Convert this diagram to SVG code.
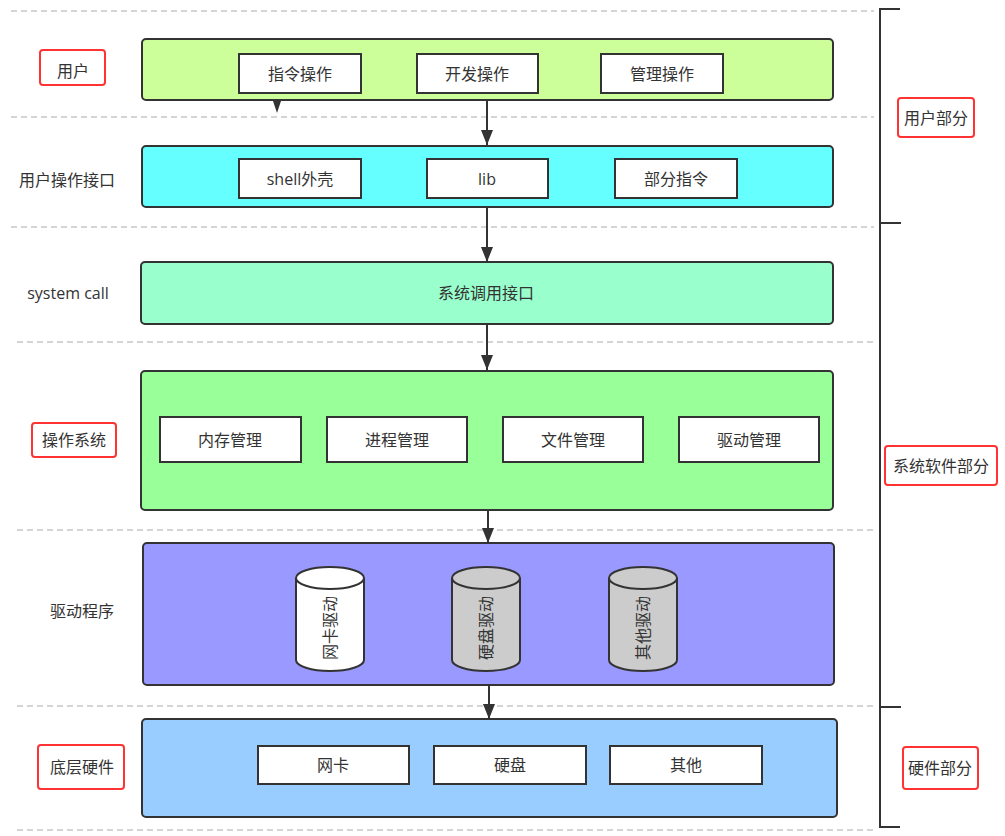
<svg xmlns="http://www.w3.org/2000/svg" width="1005" height="836" viewBox="0 0 1005 836">
<defs>
<style>
text{font-family:"Open Sans","Noto Sans CJK SC",sans-serif;font-size:16px;fill:#333;text-anchor:middle;dominant-baseline:central}
.div{stroke:#aaa;stroke-width:1;stroke-dasharray:6 4;fill:none}
.layer{stroke:#333;stroke-width:2}
.inner{fill:#fff;stroke:#333;stroke-width:2}
.red{fill:#fff;stroke:#ff3333;stroke-width:2}
.conn{stroke:#333;stroke-width:2;fill:none;marker-end:url(#arr)}
.br{stroke:#333;stroke-width:2;fill:none}
.cyl{stroke:#333;stroke-width:2}
</style>
<marker id="arr" markerWidth="15" markerHeight="12" refX="15" refY="6" orient="auto" markerUnits="userSpaceOnUse" viewBox="0 0 15 12">
<path d="M0,0 L15,6 L0,12 Z" fill="#333"/>
</marker>
</defs>
<rect width="1005" height="836" fill="#fff"/>

<g id="dividers">
<line class="div" x1="11" y1="11" x2="874" y2="11"/>
<line class="div" x1="11" y1="117" x2="874" y2="117"/>
<line class="div" x1="11" y1="227" x2="874" y2="227"/>
<line class="div" x1="17" y1="342" x2="874" y2="342"/>
<line class="div" x1="17" y1="530" x2="874" y2="530"/>
<line class="div" x1="17" y1="706" x2="874" y2="706"/>
<line class="div" x1="17" y1="830" x2="874" y2="830"/>
</g>

<g id="bracket">
<path class="br" d="M900,9 H880 V827 H900"/>
<line class="br" x1="880" y1="223" x2="901" y2="223"/>
<line class="br" x1="880" y1="707" x2="901" y2="707"/>
</g>

<g id="label-user-part">
<rect class="red" x="898" y="98" width="76" height="39" rx="3"/>
<text x="936" y="118">用户部分</text>
</g>
<g id="label-sys-part">
<rect class="red" x="885" y="446" width="112" height="39" rx="3"/>
<text x="941" y="466">系统软件部分</text>
</g>
<g id="label-hw-part">
<rect class="red" x="903" y="747" width="75" height="42" rx="3"/>
<text x="940" y="768">硬件部分</text>
</g>

<g id="label-user">
<rect class="red" x="40" y="50" width="65" height="35" rx="3"/>
<text x="73" y="71">用户</text>
</g>
<g id="label-uif"><text x="67" y="180">用户操作接口</text></g>
<g id="label-syscall"><text x="68" y="293">system call</text></g>
<g id="label-os">
<rect class="red" x="32" y="423" width="84" height="34" rx="3"/>
<text x="74" y="440">操作系统</text>
</g>
<g id="label-driver"><text x="82" y="611">驱动程序</text></g>
<g id="label-hw">
<rect class="red" x="38" y="745" width="86" height="44" rx="3"/>
<text x="82" y="767">底层硬件</text>
</g>

<g id="connectors">
<line class="conn" x1="487" y1="101" x2="487" y2="145"/>
<line class="conn" x1="487" y1="208" x2="487" y2="262"/>
<line class="conn" x1="487" y1="325" x2="487" y2="370"/>
<line class="conn" x1="488" y1="511" x2="488" y2="543"/>
<line class="conn" x1="489" y1="686" x2="489" y2="719"/>
<path d="M273,101 L281,101 L277,113 Z" fill="#333"/>
</g>

<g id="layer-user">
<rect class="layer" x="142" y="39" width="691" height="61" rx="4" fill="#ccff99" stroke="#111"/>
<g id="n-cmd"><rect class="inner" x="239" y="54" width="122" height="39"/><text x="300" y="74">指令操作</text></g>
<g id="n-dev"><rect class="inner" x="417" y="54" width="121" height="39"/><text x="477" y="74">开发操作</text></g>
<g id="n-mgmt"><rect class="inner" x="601" y="54" width="122" height="39"/><text x="662" y="74">管理操作</text></g>
</g>

<g id="layer-uif">
<rect class="layer" x="142" y="146" width="691" height="61" rx="4" fill="#66ffff"/>
<g id="n-shell"><rect class="inner" x="239" y="159" width="122" height="39"/><text x="300" y="179">shell外壳</text></g>
<g id="n-lib"><rect class="inner" x="427" y="159" width="121" height="39"/><text x="487" y="179">lib</text></g>
<g id="n-part"><rect class="inner" x="615" y="159" width="122" height="39"/><text x="676" y="179">部分指令</text></g>
</g>

<g id="layer-syscall">
<rect class="layer" x="141" y="262" width="692" height="62" rx="4" fill="#99ffcc"/>
<text x="486" y="293">系统调用接口</text>
</g>

<g id="layer-os">
<rect class="layer" x="141" y="371" width="692" height="139" rx="4" fill="#99ff99"/>
<g id="n-mem"><rect class="inner" x="160" y="417" width="141" height="45"/><text x="230" y="440">内存管理</text></g>
<g id="n-proc"><rect class="inner" x="327" y="417" width="140" height="45"/><text x="397" y="440">进程管理</text></g>
<g id="n-file"><rect class="inner" x="503" y="417" width="140" height="45"/><text x="573" y="440">文件管理</text></g>
<g id="n-drvm"><rect class="inner" x="679" y="417" width="140" height="45"/><text x="749" y="440">驱动管理</text></g>
</g>

<g id="layer-driver">
<rect class="layer" x="143" y="543" width="691" height="142" rx="4" fill="#9999ff"/>
<g id="n-nicdrv">
<path class="cyl" fill="#fff" d="M296,578 A34,11 0 0 1 364,578 V660 A34,11 0 0 1 296,660 Z"/>
<path class="cyl" fill="none" d="M296,578 A34,11 0 0 0 364,578"/>
<text x="0" y="0" transform="translate(330,628) rotate(-90)">网卡驱动</text>
</g>
<g id="n-hddrv">
<path class="cyl" fill="#cccccc" d="M452,578 A34,11 0 0 1 520,578 V660 A34,11 0 0 1 452,660 Z"/>
<path class="cyl" fill="none" d="M452,578 A34,11 0 0 0 520,578"/>
<text x="0" y="0" transform="translate(486,628) rotate(-90)">硬盘驱动</text>
</g>
<g id="n-othdrv">
<path class="cyl" fill="#cccccc" d="M609,578 A34,11 0 0 1 677,578 V660 A34,11 0 0 1 609,660 Z"/>
<path class="cyl" fill="none" d="M609,578 A34,11 0 0 0 677,578"/>
<text x="0" y="0" transform="translate(643,628) rotate(-90)">其他驱动</text>
</g>
</g>

<g id="layer-hw">
<rect class="layer" x="142" y="719" width="695" height="98" rx="4" fill="#99ccff"/>
<g id="n-nic"><rect class="inner" x="258" y="746" width="151" height="38"/><text x="333" y="765">网卡</text></g>
<g id="n-hdd"><rect class="inner" x="434" y="746" width="152" height="38"/><text x="510" y="765">硬盘</text></g>
<g id="n-oth"><rect class="inner" x="610" y="746" width="152" height="38"/><text x="686" y="765">其他</text></g>
</g>
</svg>
